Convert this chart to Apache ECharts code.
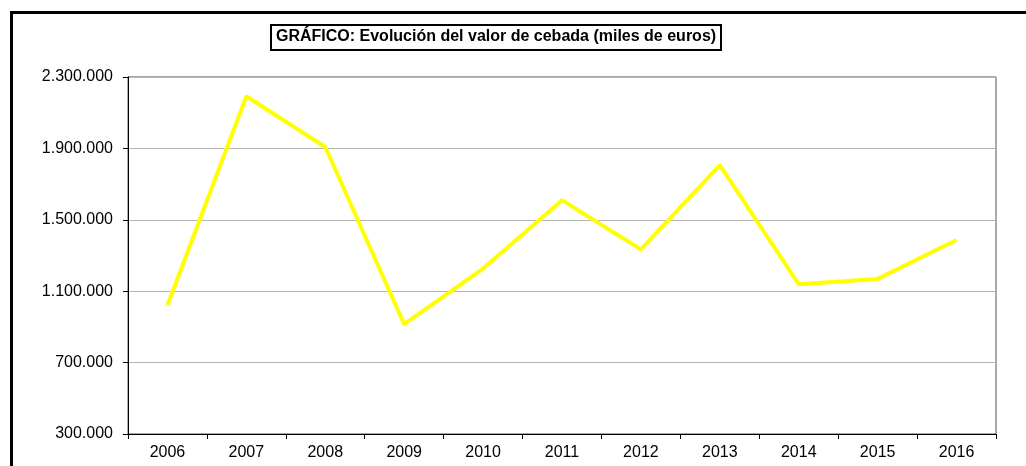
<!DOCTYPE html>
<html>
<head>
    <meta charset="utf-8">
    <title>Evolución del valor de cebada</title>
    <script src="https://cdn.jsdelivr.net/npm/echarts@6/dist/echarts.min.js"></script>
    <style>
        html, body { margin: 0; padding: 0; background: #fff; }
        #chart { width: 1026px; height: 466px; }
    </style>
</head>
<body>
<div id="chart"></div>
<script>
    // datos
    var years = ['2006', '2007', '2008', '2009', '2010', '2011', '2012', '2013', '2014', '2015', '2016'];
    var valores = [1021000, 2192000, 1908000, 915000, 1227000, 1610000, 1334000, 1806000, 1139000, 1169000, 1387000];
    var titulo = 'GRÁFICO: Evolución del valor de cebada (miles de euros)';

    // 1900000 -> 1.900.000
    var puntos = function (v) {
        return String(v).replace(/\B(?=(\d{3})+(?!\d))/g, '.');
    };

    var myChart = echarts.init(document.getElementById('chart'));
    var option = {
        animation: false,
        textStyle: { fontFamily: 'Liberation Sans, Arial, sans-serif' },
        title: {
            text: titulo,
            left: 271,
            top: 25,
            padding: [4, 5, 5, 5],
            borderColor: '#000',
            borderWidth: 2,
            textStyle: { fontSize: 16, fontWeight: 'bold', color: '#000' }
        },
        graphic: [{
            type: 'rect',
            shape: { x: 11.5, y: 12.5, width: 1030, height: 500 },
            style: { fill: 'none', stroke: '#000', lineWidth: 3 },
            silent: true
        }],
        grid: {
            left: 128,
            right: 30,
            top: 77,
            bottom: 32,
            show: true,
            borderColor: '#555',
            borderWidth: 1
        },
        xAxis: {
            type: 'category',
            data: years,
            boundaryGap: true,
            axisLine: { lineStyle: { color: '#000', width: 1 } },
            axisTick: { show: true, length: 5, lineStyle: { color: '#000' } },
            axisLabel: { color: '#000', fontSize: 16, margin: 11 }
        },
        yAxis: {
            type: 'value',
            min: 300000,
            max: 2300000,
            interval: 400000,
            axisLine: { show: true, lineStyle: { color: '#000', width: 1 } },
            axisTick: { show: true, length: 5, lineStyle: { color: '#000' } },
            axisLabel: { color: '#000', fontSize: 16, margin: 15, formatter: puntos },
            splitLine: { lineStyle: { color: '#b4b4b4', width: 1 } }
        },
        series: [{
            type: 'line',
            data: valores,
            symbol: 'none',
            lineStyle: { color: '#ffff00', width: 4 }
        }]
    };
    myChart.setOption(option);
</script>
</body>
</html>
